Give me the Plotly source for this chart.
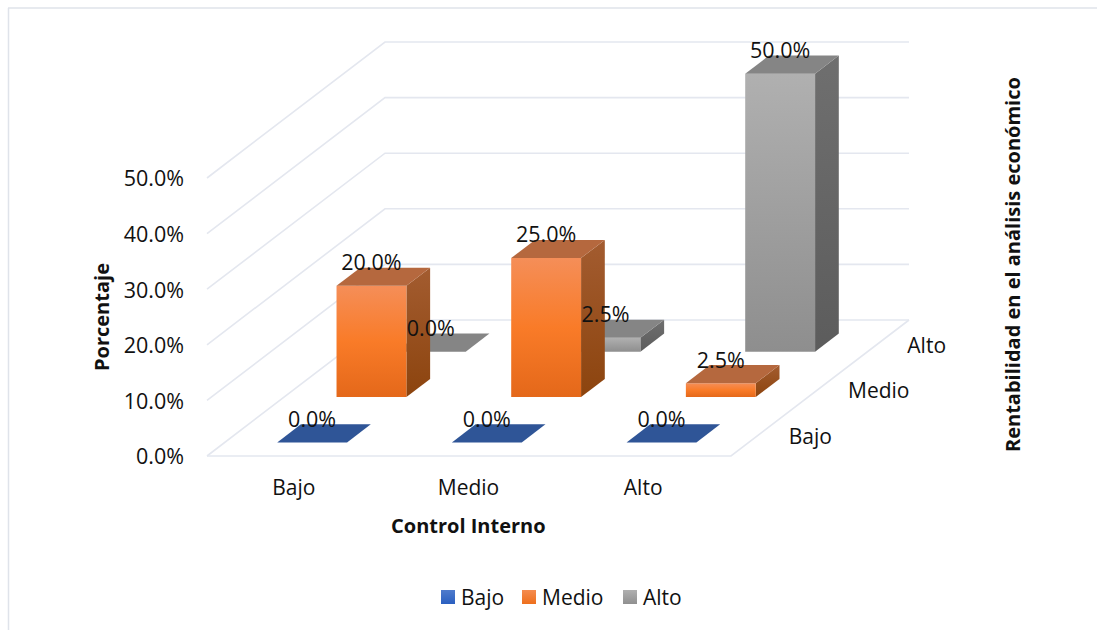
import plotly.graph_objects as go

# ---- data ----
control_interno = ["Bajo", "Medio", "Alto"]
rentabilidad = ["Bajo", "Medio", "Alto"]
serie_bajo = [0.0, 0.0, 0.0]
serie_medio = [20.0, 25.0, 2.5]
serie_alto = [0.0, 2.5, 50.0]
z_ticks = [0, 10, 20, 30, 40, 50]

series = [("Bajo", serie_bajo), ("Medio", serie_medio), ("Alto", serie_alto)]

styles = {
    "Bajo": dict(front=["#4472c4", "#2f5fb8"], side=["#25467f", "#1f3c6e"], top="#2f5597", legend=("#4f7bcc", "#2a5fc0")),
    "Medio": dict(front=["#f58e58", "#f97b28", "#e4681a"], side=["#a35c30", "#8c440e"], top="#b5683e", legend=("#f58c50", "#ee6f1c")),
    "Alto": dict(front=["#b0b0b0", "#8e8e8e"], side=["#6f6f6f", "#5c5c5c"], top="#858585", legend=("#b0b0b0", "#909090")),
}

# ---- oblique projection of the Excel 3-D box onto page pixels ----
X0, Y0 = 207.0, 456.0
CELL_X = 174.67
DEPTH_X, DEPTH_Y = 59.33, 45.33
Z_UNIT = 5.56
BAR_LO, BAR_HI = 0.3, 0.7
FONT = "Open Sans"
TXT = "#111111"
GRID = "#e4e7ef"
NUM_SIZE = 21.5
WORD_SIZE = 21


def proj(i, j, z):
    return X0 + i * CELL_X + j * DEPTH_X, Y0 - j * DEPTH_Y - z * Z_UNIT


def poly(points, **kw):
    xy = [proj(*p) for p in points]
    xy.append(xy[0])
    return go.Scatter(x=[a for a, _ in xy], y=[b for _, b in xy], mode="lines", line=dict(width=0),
                      fill="toself", hoverinfo="skip", showlegend=False, **kw)


def scale(colors):
    n = len(colors) - 1
    return [[k / n, c] for k, c in enumerate(colors)]


fig = go.Figure()


def line(points, color=GRID, width=1.6):
    xy = [proj(*p) for p in points]
    fig.add_trace(go.Scatter(x=[a for a, _ in xy], y=[b for _, b in xy], mode="lines",
                             line=dict(color=color, width=width), hoverinfo="skip", showlegend=False))


n = len(control_interno)
m = len(rentabilidad)
# walls and floor
for z in z_ticks:
    line([(0, 0, z), (0, m, z), (n, m, z)])
line([(0, 0, 0), (n, 0, 0), (n, m, 0)])

# bars, back to front
for j in range(m - 1, -1, -1):
    name, values = series[j]
    st = styles[name]
    for i in range(n):
        v = values[i]
        a, b = i + BAR_LO, i + BAR_HI
        f, k = j + BAR_LO, j + BAR_HI
        if v > 0:
            fig.add_trace(poly([(b, f, 0), (b, k, 0), (b, k, v), (b, f, v)],
                               fillgradient=dict(type="vertical", colorscale=scale(st["side"][::-1]))))
            fig.add_trace(poly([(a, f, 0), (b, f, 0), (b, f, v), (a, f, v)],
                               fillgradient=dict(type="vertical", colorscale=scale(st["front"][::-1]))))
        fig.add_trace(poly([(a, f, v), (b, f, v), (b, k, v), (a, k, v)], fillcolor=st["top"], name=name))

# data labels
for j, (name, values) in enumerate(series):
    pts = [proj(i + 0.5, j + BAR_LO, values[i]) for i in range(n)]
    xs = [p[0] for p in pts]
    ys = [p[1] - 21 for p in pts]
    fig.add_trace(go.Scatter(x=xs, y=ys, mode="text", text=[f"{v:.1f}%" for v in values],
                             textposition="middle center", textfont=dict(family=FONT, size=NUM_SIZE, color=TXT),
                             hoverinfo="skip", showlegend=False))

# value axis labels
pz = [proj(0, 0, z) for z in z_ticks]
fig.add_trace(go.Scatter(x=[p[0] - 23 for p in pz], y=[p[1] + 3 for p in pz], mode="text",
                         text=[f"{z:.1f}%" for z in z_ticks], textposition="middle left",
                         textfont=dict(family=FONT, size=NUM_SIZE, color=TXT), hoverinfo="skip", showlegend=False))
# category labels
pc = [proj(i + 0.5, 0, 0) for i in range(n)]
fig.add_trace(go.Scatter(x=[p[0] - 0.5 for p in pc], y=[p[1] + 34 for p in pc], mode="text", text=control_interno,
                         textposition="middle center", textfont=dict(family=FONT, size=WORD_SIZE, color=TXT),
                         hoverinfo="skip", showlegend=False))
# depth labels
pd_ = [proj(n, j + 0.5, 0) for j in range(m)]
fig.add_trace(go.Scatter(x=[p[0] + 28 for p in pd_], y=[p[1] + 5 for p in pd_], mode="text", text=rentabilidad,
                         textposition="middle right", textfont=dict(family=FONT, size=WORD_SIZE, color=TXT),
                         hoverinfo="skip", showlegend=False))

# legend
for (name, _), sx, tx in zip(series, [448, 529, 630], [461, 542, 643]):
    c0, c1 = styles[name]["legend"]
    fig.add_trace(go.Scatter(x=[sx], y=[597], mode="markers", name=name, showlegend=False, hoverinfo="skip",
                             marker=dict(symbol="square", size=14, color=c0, line=dict(width=0),
                                         gradient=dict(type="vertical", color=c1))))
    fig.add_trace(go.Scatter(x=[tx], y=[600], mode="text", text=[name], textposition="middle right",
                             textfont=dict(family=FONT, size=WORD_SIZE, color=TXT), hoverinfo="skip", showlegend=False))

bold = dict(family=FONT, size=20, color=TXT, weight="bold")
fig.update_layout(
    width=1097, height=630, margin=dict(l=0, r=0, t=0, b=0), autosize=False,
    paper_bgcolor="white", plot_bgcolor="white", showlegend=False,
    xaxis=dict(range=[0, 1097], visible=False, fixedrange=True),
    yaxis=dict(range=[630, 0], visible=False, fixedrange=True),
    annotations=[
        dict(x=101, y=317, text="Porcentaje", textangle=-90, showarrow=False, font=bold),
        dict(x=468, y=525, text="Control Interno", showarrow=False, font=bold),
        dict(x=1012, y=265, text="Rentabilidad en el análisis económico", textangle=-90, showarrow=False, font=bold),
    ],
    shapes=[
        dict(type="line", x0=8.5, x1=8.5, y0=8, y1=630, line=dict(color="#dfe3ea", width=1.5)),
        dict(type="line", x0=8, x1=1097, y0=8, y1=8, line=dict(color="#dfe3ea", width=1.5)),
    ],
)
fig.write_html("out.html", config=dict(displayModeBar=False),
               post_script="document.body.style.margin='0';document.body.style.overflow='hidden';")
